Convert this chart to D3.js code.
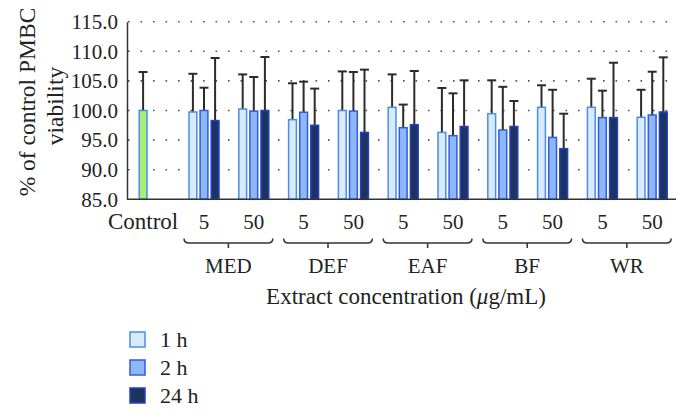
<!DOCTYPE html>
<html><head><meta charset="utf-8">
<script src="https://cdn.jsdelivr.net/npm/d3@7/dist/d3.min.js"></script>
<style>body{margin:0;background:#fff}svg{display:block}text{font-family:"Liberation Serif","DejaVu Serif",serif;fill:#222}</style>
</head><body><svg id="c" width="690" height="417"></svg>
<script>
const extracts = ["MED","DEF","EAF","BF","WR"];
const concentrations = ["5","50"];
const seriesNames = ["1 h","2 h","24 h"];
const controlMean = 100.0, controlSd = 6.5;
// order: MED5, MED50, DEF5, DEF50, EAF5, EAF50, BF5, BF50, WR5, WR50
const mean1h  = [99.75,100.25,98.45,100.0,100.54,96.3,99.46,100.54,100.54,98.85];
const sd1h    = [6.45,5.85,6.15,6.6,5.56,7.5,5.64,3.72,4.83,4.65];
const mean2h  = [100.0,99.9,99.7,99.9,97.1,95.75,96.7,95.45,98.8,99.24];
const sd2h    = [3.85,5.76,5.17,6.6,3.9,7.15,7.3,8.05,4.55,7.31];
const mean24h = [98.3,100.0,97.5,96.3,97.6,97.3,97.3,93.55,98.8,99.75];
const sd24h   = [10.57,9.04,6.2,10.6,9.07,7.8,4.3,5.91,9.27,9.23];
const yTicks = [85,90,95,100,105,110,115];

const fills = ["#d8eafc","#8db7f7","#1c3461"];
const strokes = ["#4a8fe3","#2f5ce0","#2640c4"];

const svg = d3.select("#c");
const cats = ["Control"];
extracts.forEach(e => concentrations.forEach(c => cats.push(e+"-"+c)));
const x = d3.scaleBand().domain(cats).range([129.3,677.1]).padding(0);
const y = d3.scaleLinear().domain([85,115]).range([199.3,21.7]);
const bw = 9.3, step = 11.1;
const cx = k => x(k) + x.bandwidth()/2;

// grid
svg.append("g").selectAll("line").data(yTicks.slice(1)).join("line")
  .attr("x1",128).attr("x2",669).attr("y1",d=>y(d)).attr("y2",d=>y(d))
  .attr("stroke","#555").attr("stroke-width",1.6).attr("stroke-dasharray","1.6 10.9");

// y axis
const ya = svg.append("g").attr("transform","translate(127,0)")
  .call(d3.axisLeft(y).tickValues(yTicks).tickFormat(d3.format(".1f")).tickSize(0).tickPadding(9));
ya.select(".domain").attr("stroke","#333").attr("stroke-width",1.5);
ya.selectAll("text").attr("font-size",21).attr("font-family","Liberation Serif, serif").attr("fill","#222");

// bars
const bars = [];
bars.push({k:"Control", off:-step, v:controlMean, sd:controlSd, fill:"#a8ef78", stroke:"#4a8fe3"});
const means=[mean1h,mean2h,mean24h], sds=[sd1h,sd2h,sd24h];
cats.slice(1).forEach((k,i)=>{
  for(let s=0;s<3;s++) bars.push({k, off:(s-1)*step, v:means[s][i], sd:sds[s][i], fill:fills[s], stroke:strokes[s]});
});
const bg = svg.append("g");
bars.forEach(b=>{
  const xc = cx(b.k)+b.off;
  const top = y(b.v+b.sd);
  bg.append("line").attr("x1",xc).attr("x2",xc).attr("y1",y(b.v)).attr("y2",top).attr("stroke","#2b2b2b").attr("stroke-width",2);
  bg.append("line").attr("x1",xc-4.5).attr("x2",xc+4.5).attr("y1",top).attr("y2",top).attr("stroke","#2b2b2b").attr("stroke-width",2);
  bg.append("rect").attr("x",xc-bw/2+0.75).attr("y",y(b.v)).attr("width",bw-1.5).attr("height",y(85)-y(b.v))
    .attr("fill",b.fill).attr("stroke",b.stroke).attr("stroke-width",1.5);
});

// x axis line
svg.append("line").attr("x1",127).attr("x2",676).attr("y1",y(85)).attr("y2",y(85)).attr("stroke","#333").attr("stroke-width",1.5);

// x labels
svg.append("text").attr("x",cx("Control")-step).attr("y",228.5).attr("text-anchor","middle").attr("font-size",23).text("Control");
cats.slice(1).forEach(k=>{
  svg.append("text").attr("x",cx(k)).attr("y",228.5).attr("text-anchor","middle").attr("font-size",21).text(k.split("-")[1]);
});
// braces
extracts.forEach(e=>{
  const a = cx(e+"-5")-20, b = cx(e+"-50")+19, m=(a+b)/2;
  svg.append("path").attr("d",`M${a},238.5 Q${a},243 ${a+5},243 H${b-5} Q${b},243 ${b},238.5 M${m},243 V248`)
    .attr("fill","none").attr("stroke","#333").attr("stroke-width",1.5);
  svg.append("text").attr("x",m).attr("y",272.5).attr("text-anchor","middle").attr("font-size",21).text(e);
});
const xt = svg.append("text").attr("x",406).attr("y",304).attr("text-anchor","middle").attr("font-size",23);
xt.append("tspan").text("Extract concentration (");
xt.append("tspan").attr("font-style","italic").text("μ");
xt.append("tspan").text("g/mL)");

// y title
svg.append("text").attr("transform","translate(27,102) rotate(-90)").attr("text-anchor","middle").attr("font-size",23.5).attr("dominant-baseline","central").text("% of control PMBC");
svg.append("text").attr("transform","translate(55,106) rotate(-90)").attr("text-anchor","middle").attr("font-size",23.5).attr("dominant-baseline","central").text("viability");

// legend
seriesNames.forEach((n,i)=>{
  const yy = 332 + i*28;
  svg.append("rect").attr("x",130).attr("y",yy).attr("width",15).attr("height",15)
    .attr("fill",fills[i]).attr("stroke",strokes[i]).attr("stroke-width",1.5);
  svg.append("text").attr("x",160).attr("y",yy+15).attr("font-size",22).text(n);
});
</script></body></html>
